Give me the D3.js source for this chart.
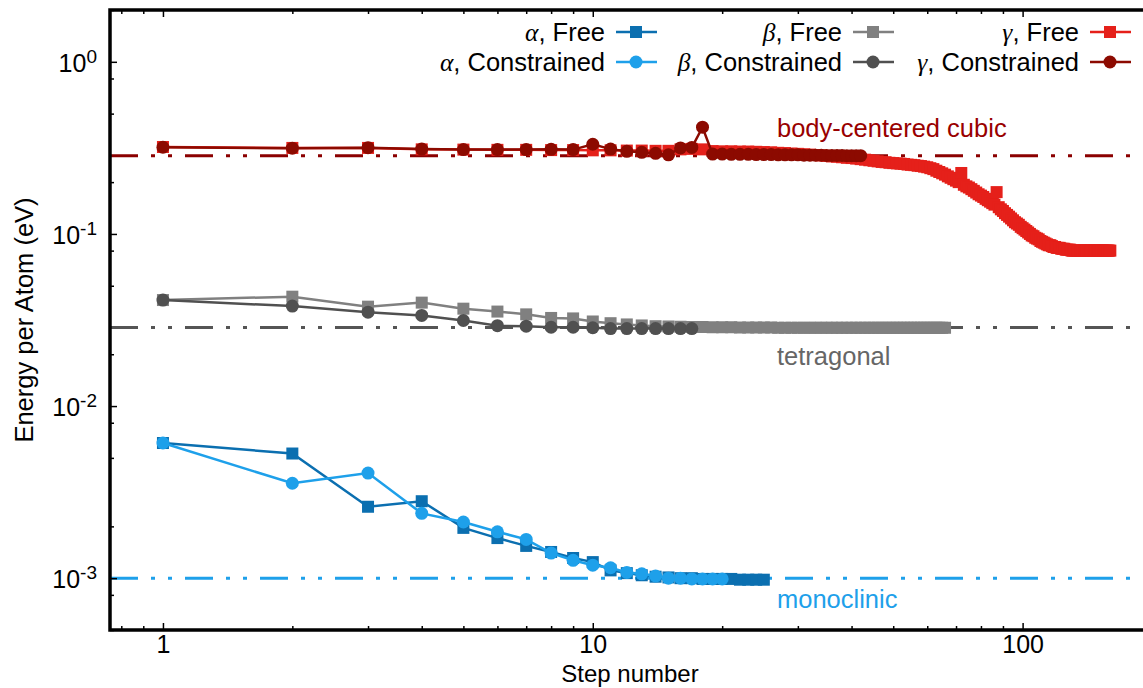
<html>
<head>
<script src="https://d3js.org/d3.v7.min.js"></script>
<style>
body { margin: 0; background: #fff; }
text { font-family: "Liberation Sans", Arial, sans-serif; fill: #000; }
</style>
</head>
<body>
<svg width="1143" height="688"></svg>
<script>
// energy per atom (eV) at each relaxation step, step = index + 1
var alphaFree = [0.0061, 0.0053, 0.0026, 0.0028, 0.00196, 0.00171, 0.00154, 0.00142, 0.00131, 0.00124,
  0.00111, 0.00107, 0.00104, 0.00102, 0.00101, 0.001, 0.001, 0.00099, 0.00099, 0.00099,
  0.00099, 0.00098, 0.00098, 0.00098, 0.00098];
var alphaConstrained = [0.0061, 0.00356, 0.00408, 0.00238, 0.00212, 0.00186, 0.00168, 0.0014, 0.00127, 0.00119,
  0.00115, 0.00108, 0.00106, 0.00103, 0.001, 0.001, 0.00099, 0.00099, 0.00099, 0.00099];
var betaFree = [0.0413, 0.0432, 0.0378, 0.0399, 0.0368, 0.0354, 0.0341, 0.0325, 0.0323, 0.031,
  0.0303, 0.0298, 0.0294, 0.0291, 0.029, 0.0289, 0.0288, 0.0288, 0.0287, 0.0287,
  0.0287, 0.0286, 0.0286, 0.0286, 0.0286, 0.0286, 0.0285, 0.0285, 0.0285, 0.0285,
  0.0285, 0.0285, 0.0285, 0.0285, 0.0285, 0.0285, 0.0285, 0.0285, 0.0285, 0.0285,
  0.0285, 0.0285, 0.0285, 0.0285, 0.0285, 0.0285, 0.0285, 0.0285, 0.0285, 0.0285,
  0.0285, 0.0285, 0.0285, 0.0285, 0.0285, 0.0285, 0.0285, 0.0285, 0.0285, 0.0285,
  0.0285, 0.0285, 0.0285, 0.0285, 0.0285, 0.0285];
var betaConstrained = [0.0413, 0.0381, 0.0351, 0.0336, 0.0314, 0.0293, 0.0291, 0.0287, 0.0287, 0.0285,
  0.0282, 0.0282, 0.0282, 0.0282, 0.0282, 0.0282, 0.0282];
var gammaFree = [0.32, 0.316, 0.316, 0.31, 0.309, 0.308, 0.308, 0.307, 0.307, 0.306,
  0.306, 0.305, 0.305, 0.304, 0.304, 0.31, 0.312, 0.31, 0.303, 0.302,
  0.302, 0.301, 0.301, 0.3, 0.299, 0.298, 0.296, 0.295, 0.293, 0.292,
  0.29, 0.289, 0.287, 0.286, 0.284, 0.282, 0.281, 0.279, 0.277, 0.276,
  0.274, 0.272, 0.27, 0.268, 0.266, 0.264, 0.262, 0.261, 0.259, 0.258,
  0.257, 0.256, 0.255, 0.253, 0.252, 0.251, 0.249, 0.248, 0.246, 0.244,
  0.241, 0.238, 0.233, 0.229, 0.225, 0.221, 0.216, 0.212, 0.208, 0.204,
  0.2, 0.226, 0.193, 0.189, 0.186, 0.182, 0.178, 0.174, 0.17, 0.167,
  0.164, 0.16, 0.157, 0.154, 0.151, 0.148, 0.175, 0.143, 0.139, 0.136,
  0.132, 0.129, 0.126, 0.123, 0.12, 0.117, 0.115, 0.113, 0.11, 0.108,
  0.106, 0.104, 0.102, 0.1, 0.098, 0.097, 0.095, 0.094, 0.093, 0.091,
  0.09, 0.089, 0.088, 0.087, 0.086, 0.086, 0.085, 0.084, 0.084, 0.083,
  0.083, 0.083, 0.082, 0.082, 0.082, 0.081, 0.081, 0.081, 0.081, 0.08,
  0.08, 0.08, 0.08, 0.08, 0.08, 0.08, 0.08, 0.08, 0.08, 0.08,
  0.08, 0.08, 0.08, 0.08, 0.08, 0.08, 0.08, 0.08, 0.08, 0.08,
  0.08, 0.08, 0.08, 0.08, 0.08, 0.08, 0.08, 0.08, 0.08, 0.08];
var gammaConstrained = [0.319, 0.315, 0.317, 0.311, 0.309, 0.309, 0.309, 0.31, 0.309, 0.332,
  0.311, 0.302, 0.298, 0.294, 0.288, 0.316, 0.318, 0.417, 0.291, 0.291,
  0.29, 0.29, 0.29, 0.289, 0.289, 0.289, 0.288, 0.288, 0.288, 0.288,
  0.287, 0.287, 0.287, 0.287, 0.286, 0.286, 0.286, 0.286, 0.285, 0.285,
  0.285, 0.285];

// reference energies of the known phases
var refNames = ["body-centered cubic", "tetragonal", "monoclinic"];
var refValues = [0.285, 0.0286, 0.001];
var refColors = ["#8b0000", "#555555", "#1ea0ea"];
var refLabelColors = ["#990000", "#666666", "#1ea0ea"];

var seriesNames = ["\u03b1|, Free", "\u03b1|, Constrained", "\u03b2|, Free", "\u03b2|, Constrained", "\u03b3|, Free", "\u03b3|, Constrained"];
var seriesData = [alphaFree, alphaConstrained, betaFree, betaConstrained, gammaFree, gammaConstrained];
var seriesColors = ["#0b6fb0", "#1ea0ea", "#808080", "#505050", "#e5201a", "#8c0a00"];
var seriesMarkers = ["square", "circle", "square", "circle", "square", "circle"];

var xMajor = [1, 10, 100];
var xMinor = [0.8, 0.9, 2, 3, 4, 5, 6, 7, 8, 9, 20, 30, 40, 50, 60, 70, 80, 90, 200];
var yMajor = [1, 0.1, 0.01, 0.001];
var yMajorExp = ["0", "-1", "-2", "-3"];
var yMinor = [2, 0.8, 0.5, 0.2, 0.08, 0.05, 0.02, 0.008, 0.005, 0.002, 0.0008, 0.0005];

var svg = d3.select("svg");
var x = d3.scaleLog().domain([0.745, 200]).range([108, 1152]);
var y = d3.scaleLog().domain([5e-4, 2]).range([630, 10]);

// reference lines (dash dot dot)
refValues.forEach(function(v, i) {
  svg.append("line")
    .attr("x1", 110).attr("x2", 1152)
    .attr("y1", y(v)).attr("y2", y(v))
    .attr("stroke", refColors[i]).attr("stroke-width", 3)
    .attr("stroke-dasharray", "28,13,4,13,4,13");
});
var refLabelY = [137, 365, 608];
refNames.forEach(function(n, i) {
  svg.append("text").attr("x", 777).attr("y", refLabelY[i])
    .style("font-size", "25.5px").style("fill", refLabelColors[i]).text(n);
});

// series
var line = d3.line().x(function(d, i) { return x(i + 1); }).y(function(d) { return y(d); });
seriesData.forEach(function(data, s) {
  var g = svg.append("g");
  g.append("path").datum(data).attr("d", line)
    .attr("fill", "none").attr("stroke", seriesColors[s]).attr("stroke-width", 2.5);
  if (seriesMarkers[s] == "square") {
    g.selectAll("rect").data(data).enter().append("rect")
      .attr("x", function(d, i) { return x(i + 1) - 6; })
      .attr("y", function(d) { return y(d) - 6; })
      .attr("width", 12).attr("height", 12)
      .attr("fill", seriesColors[s]);
  } else {
    g.selectAll("circle").data(data).enter().append("circle")
      .attr("cx", function(d, i) { return x(i + 1); })
      .attr("cy", function(d) { return y(d); })
      .attr("r", 6.5)
      .attr("fill", seriesColors[s]);
  }
});

// axes, ticks pointing inward
function plain(g) { g.select(".domain").remove(); g.selectAll("line").attr("stroke", "#000").attr("stroke-width", 1.5); }
svg.append("g").attr("transform", "translate(0,630)")
  .call(d3.axisBottom(x).tickValues(xMajor).tickSize(-7).tickFormat(d3.format("d")))
  .call(plain)
  .call(function(g) { g.selectAll("text").attr("y", 23).attr("dy", null).style("font-size", "25px").style("font-family", "Liberation Sans"); });
svg.append("g").attr("transform", "translate(0,630)")
  .call(d3.axisBottom(x).tickValues(xMinor).tickSize(-4).tickFormat(""))
  .call(plain);
svg.append("g").attr("transform", "translate(0,10)")
  .call(d3.axisTop(x).tickValues(xMajor).tickSize(-7).tickFormat(""))
  .call(plain);
svg.append("g").attr("transform", "translate(0,10)")
  .call(d3.axisTop(x).tickValues(xMinor).tickSize(-4).tickFormat(""))
  .call(plain);
svg.append("g").attr("transform", "translate(110,0)")
  .call(d3.axisLeft(y).tickValues(yMajor).tickSize(-7).tickFormat(""))
  .call(plain);
svg.append("g").attr("transform", "translate(110,0)")
  .call(d3.axisLeft(y).tickValues(yMinor).tickSize(-4).tickFormat(""))
  .call(plain);

yMajor.forEach(function(v, i) {
  var t = svg.append("text").attr("x", 97).attr("y", y(v) + 10)
    .attr("text-anchor", "end").style("font-size", "25px");
  t.append("tspan").text("10");
  t.append("tspan").attr("dy", -9).style("font-size", "19px").text(yMajorExp[i]);
});

// frame: left, bottom and top (right side runs off the picture)
svg.append("path")
  .attr("d", "M1152,10 H110 V630 H1152")
  .attr("fill", "none").attr("stroke", "#000").attr("stroke-width", 3.5);

svg.append("text").attr("x", 630).attr("y", 682).attr("text-anchor", "middle")
  .style("font-size", "24px").text("Step number");
svg.append("text").attr("transform", "translate(33,320) rotate(-90)").attr("text-anchor", "middle")
  .style("font-size", "25.5px").text("Energy per Atom (eV)");

// legend: 3 columns x 2 rows
var legX = [605, 842, 1079];
var legY = [32, 62];
seriesNames.forEach(function(n, s) {
  var col = Math.floor(s / 2), row = s % 2;
  var parts = n.split("|");
  var t = svg.append("text").attr("x", legX[col]).attr("y", legY[row] + 9)
    .attr("text-anchor", "end").style("font-size", "25.5px");
  t.append("tspan").style("font-family", "Liberation Serif").style("font-style", "italic").text(parts[0]);
  t.append("tspan").text(parts[1]);
  var lx = legX[col] + 11;
  svg.append("line").attr("x1", lx).attr("x2", lx + 41)
    .attr("y1", legY[row]).attr("y2", legY[row])
    .attr("stroke", seriesColors[s]).attr("stroke-width", 2.5);
  if (seriesMarkers[s] == "square") {
    svg.append("rect").attr("x", lx + 14).attr("y", legY[row] - 6)
      .attr("width", 12).attr("height", 12).attr("fill", seriesColors[s]);
  } else {
    svg.append("circle").attr("cx", lx + 20).attr("cy", legY[row]).attr("r", 6.5)
      .attr("fill", seriesColors[s]);
  }
});
</script>
</body>
</html>
